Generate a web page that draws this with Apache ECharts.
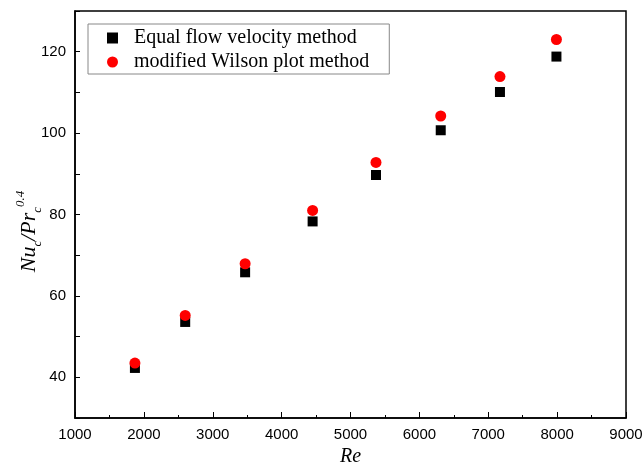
<!DOCTYPE html>
<html>
<head>
<meta charset="utf-8">
<script src="https://cdn.jsdelivr.net/npm/echarts@6/dist/echarts.min.js"></script>
<style>
    html, body { margin: 0; padding: 0; background: #fff; }
    #chart { width: 643px; height: 464px; }
</style>
</head>
<body>
<div id="chart"></div>
<script>
var reValues = [1870, 2600, 3470, 4450, 5370, 6310, 7170, 7990];
var equalFlow = [42.3, 53.6, 65.8, 78.3, 89.7, 100.7, 110.1, 118.8];
var wilsonPlot = [43.5, 55.2, 67.9, 81.0, 92.8, 104.2, 113.9, 123.0];
var seriesNames = ['Equal flow velocity method', 'modified Wilson plot method'];

function pairs(xs, ys) {
    var out = [];
    for (var i = 0; i < xs.length; i++) {
        out.push([xs[i], ys[i]]);
    }
    return out;
}

var myChart = echarts.init(document.getElementById('chart'));
var tickFont = { color: '#000', fontSize: 15, fontFamily: 'Liberation Sans, Arial, sans-serif' };
var serif = 'Liberation Serif, Times New Roman, serif';

var option = {
    backgroundColor: '#fff',
    animation: false,
    grid: {
        left: 75,
        right: 17,
        top: 11,
        bottom: 46,
        outerBoundsMode: 'none',
        containLabel: false,
        show: true,
        borderColor: '#000',
        borderWidth: 1.5
    },
    legend: {
        left: 88,
        top: 24,
        orient: 'vertical',
        itemWidth: 11,
        itemHeight: 11,
        itemGap: 4,
        padding: [4, 20, 2, 19],
        borderColor: '#888',
        borderWidth: 1,
        textStyle: { color: '#000', fontSize: 20, fontFamily: serif, padding: [0, 0, 0, 11] },
        data: [
            { name: seriesNames[0], icon: 'rect' },
            { name: seriesNames[1], icon: 'circle' }
        ]
    },
    xAxis: {
        type: 'value',
        min: 1000,
        max: 9000,
        interval: 1000,
        name: 'Re',
        nameLocation: 'middle',
        nameGap: 29,
        nameTextStyle: { color: '#000', fontSize: 20, fontStyle: 'italic', fontFamily: serif },
        axisLine: { lineStyle: { color: '#000', width: 1.5 } },
        axisTick: { inside: true, length: 6, lineStyle: { color: '#000' } },
        minorTick: { show: true, splitNumber: 2, length: 3, lineStyle: { color: '#000' } },
        axisLabel: Object.assign({
            margin: 9,
            formatter: function (v) { return String(v); }
        }, tickFont),
        splitLine: { show: false }
    },
    yAxis: {
        type: 'value',
        min: 30,
        max: 130,
        interval: 10,
        name: '{i|Nu}{s|c}{i|/Pr}{s|c}{p|0.4}',
        nameLocation: 'middle',
        nameGap: 31,
        nameMoveOverlap: false,
        nameTextStyle: {
            padding: [0, 34, 0, 0],
            rich: {
                i: { fontSize: 22, fontStyle: 'italic', fontFamily: serif, color: '#000', lineHeight: 30 },
                s: { fontSize: 13, fontStyle: 'italic', fontFamily: serif, color: '#000', verticalAlign: 'bottom', lineHeight: 30 },
                p: { fontSize: 13, fontStyle: 'italic', fontFamily: serif, color: '#000', verticalAlign: 'top', lineHeight: 30 }
            }
        },
        axisLine: { lineStyle: { color: '#000', width: 1.5 } },
        axisTick: { inside: true, length: 5, lineStyle: { color: '#000' } },
        axisLabel: Object.assign({
            margin: 9,
            formatter: function (v) {
                return (v % 20 === 0 && v < 130) ? String(v) : '';
            }
        }, tickFont),
        splitLine: { show: false }
    },
    series: [
        {
            name: seriesNames[0],
            type: 'scatter',
            symbol: 'rect',
            symbolSize: 10,
            itemStyle: { color: '#000', opacity: 1 },
            data: pairs(reValues, equalFlow)
        },
        {
            name: seriesNames[1],
            type: 'scatter',
            symbol: 'circle',
            symbolSize: 11,
            itemStyle: { color: '#ff0000', opacity: 1 },
            data: pairs(reValues, wilsonPlot)
        }
    ]
};

myChart.setOption(option);
</script>
</body>
</html>
